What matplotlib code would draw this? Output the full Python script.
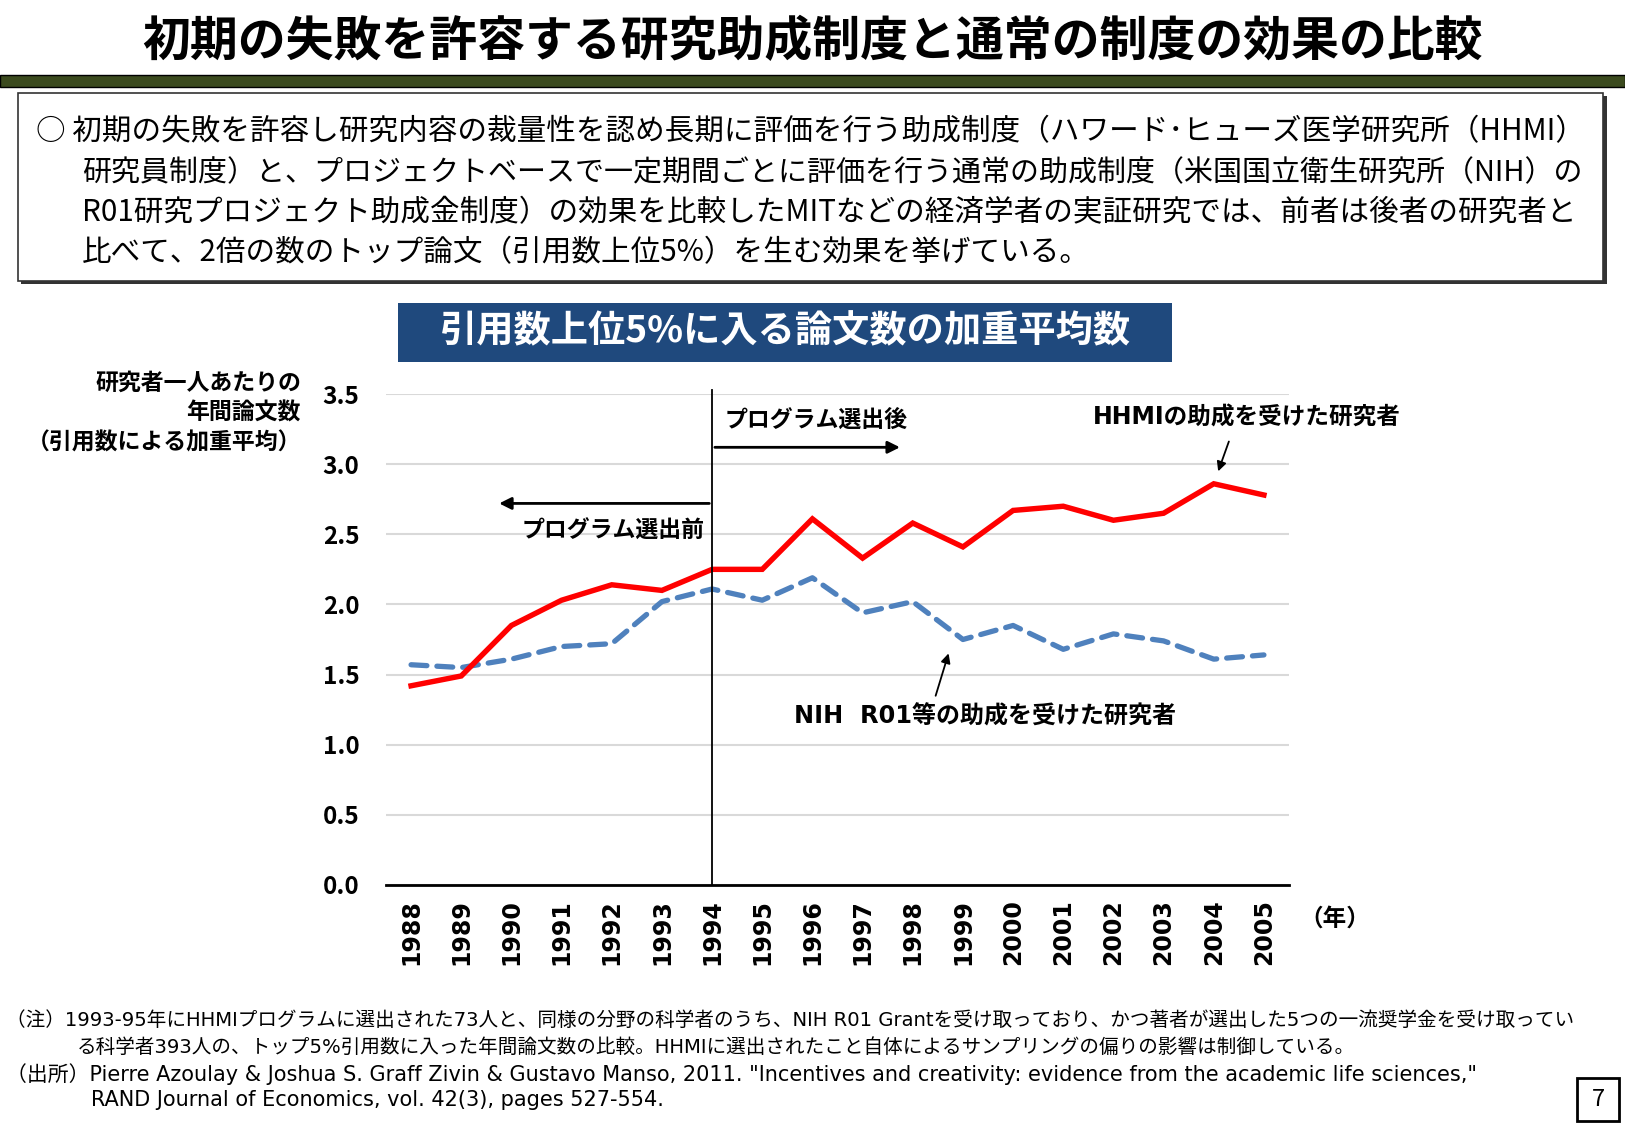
import matplotlib as mpl
import matplotlib.pyplot as plt
from matplotlib.patches import Rectangle
import numpy as np

plt.rcParams['font.family'] = ['Noto Sans CJK JP', 'DejaVu Sans']
LATIN = ['DejaVu Sans', 'Noto Sans CJK JP']

# data
years = ['1988', '1989', '1990', '1991', '1992', '1993', '1994', '1995', '1996',
         '1997', '1998', '1999', '2000', '2001', '2002', '2003', '2004', '2005']
hhmi = [1.42, 1.49, 1.85, 2.03, 2.14, 2.10, 2.25, 2.25, 2.61,
        2.33, 2.58, 2.41, 2.67, 2.70, 2.60, 2.65, 2.86, 2.78]
nih = [1.57, 1.55, 1.61, 1.70, 1.72, 2.02, 2.11, 2.03, 2.19,
       1.94, 2.02, 1.75, 1.85, 1.68, 1.79, 1.74, 1.61, 1.64]
yticks = [0.0, 0.5, 1.0, 1.5, 2.0, 2.5, 3.0, 3.5]

title = '初期の失敗を許容する研究助成制度と通常の制度の効果の比較'
box_lines = [
    '○ 初期の失敗を許容し研究内容の裁量性を認め長期に評価を行う助成制度（ハワード･ヒューズ医学研究所（HHMI）',
    '研究員制度）と、プロジェクトベースで一定期間ごとに評価を行う通常の助成制度（米国国立衛生研究所（NIH）の',
    'R01研究プロジェクト助成金制度）の効果を比較したMITなどの経済学者の実証研究では、前者は後者の研究者と',
    '比べて、2倍の数のトップ論文（引用数上位5%）を生む効果を挙げている。',
]
chart_title = '引用数上位5%に入る論文数の加重平均数'
ylabel_lines = ['研究者一人あたりの', '年間論文数', '（引用数による加重平均）']
notes = [
    '（注）1993-95年にHHMIプログラムに選出された73人と、同様の分野の科学者のうち、NIH R01 Grantを受け取っており、かつ著者が選出した5つの一流奨学金を受け取ってい',
    'る科学者393人の、トップ5%引用数に入った年間論文数の比較。HHMIに選出されたこと自体によるサンプリングの偏りの影響は制御している。',
    '（出所）Pierre Azoulay & Joshua S. Graff Zivin & Gustavo Manso, 2011. "Incentives and creativity: evidence from the academic life sciences,"',
    'RAND Journal of Economics, vol. 42(3), pages 527-554.',
]

W, H = 1625, 1125
fig = plt.figure(figsize=(W / 100, H / 100), dpi=100)


def fx(x):
    return x / W


def fy(y):
    return 1 - y / H


# header
fig.text(fx(812), fy(42), title, ha='center', va='center', fontsize=34.5, fontweight='bold')
fig.add_artist(Rectangle((0, fy(87)), 1, (87 - 75) / H, transform=fig.transFigure,
                         facecolor='#3B4A1E', edgecolor='black', linewidth=1))

# description box
fig.add_artist(Rectangle((fx(21), fy(284)), fx(1607) - fx(21), (284 - 96) / H,
                         transform=fig.transFigure, facecolor='#333333', edgecolor='none'))
fig.add_artist(Rectangle((fx(18), fy(281)), fx(1603) - fx(18), (281 - 93) / H,
                         transform=fig.transFigure, facecolor='white', edgecolor='#333333', linewidth=1.2))
box_sizes = [21.3, 20.9, 21.3, 21.3]
fig.text(fx(36), fy(132), box_lines[0], ha='left', va='center', fontsize=box_sizes[0])
for i, line in enumerate(box_lines[1:]):
    fig.text(fx(82), fy(173 + 40 * i), line, ha='left', va='center', fontsize=box_sizes[i + 1])

# chart title
fig.add_artist(Rectangle((fx(398), fy(362)), fx(1172) - fx(398), (362 - 303) / H,
                         transform=fig.transFigure, facecolor='#1F497D', edgecolor='none'))
fig.text(fx(785), fy(332), chart_title, ha='center', va='center', fontsize=26.8,
         fontweight='bold', color='white')

# y label
for i, line in enumerate(ylabel_lines):
    fig.text(fx(301), fy(383 + 30 * i), line, ha='right', va='center', fontsize=16.5, fontweight='bold')

# axes
ax = fig.add_axes([fx(386), fy(885), fx(1289) - fx(386), (885 - 394) / H])
x = np.arange(len(years))
ax.set_xlim(-0.5, len(years) - 0.5)
ax.set_ylim(0, 3.5)
ax.set_yticks(yticks)
ax.set_yticklabels(['%.1f' % v for v in yticks], fontsize=17.5, fontweight='bold')
ax.set_xticks(x)
ax.set_xticklabels(years, rotation=90, fontsize=17, fontweight='bold', family='DejaVu Sans')
ax.tick_params(length=0)
ax.tick_params(axis='y', pad=19)
ax.tick_params(axis='x', pad=10)
for s in ['top', 'left', 'right']:
    ax.spines[s].set_visible(False)
ax.spines['bottom'].set_linewidth(2)
ax.spines['bottom'].set_zorder(5)
ax.grid(axis='y', color='#D9D9D9', linewidth=1.5)
ax.set_axisbelow(True)

ax.plot(x, nih, color='#4F81BD', linewidth=3.8, dashes=(3.0, 1.9), dash_capstyle='round')
ax.plot(x, hhmi, color='#FF0000', linewidth=3.9, solid_joinstyle='miter')
ax.plot([6, 6], [0, 3.53], color='black', linewidth=1.3, clip_on=False)

# annotations
ax.annotate('', xy=(9.8, 3.12), xytext=(6, 3.12),
            arrowprops=dict(arrowstyle='-|>', color='black', lw=2, mutation_scale=18))
ax.annotate('', xy=(1.7, 2.72), xytext=(6, 2.72),
            arrowprops=dict(arrowstyle='-|>', color='black', lw=2, mutation_scale=18))
ax.text(6.25, 3.31, 'プログラム選出後', ha='left', va='center', fontsize=16.5, fontweight='bold')
ax.text(5.85, 2.52, 'プログラム選出前', ha='right', va='center', fontsize=16.5, fontweight='bold')
ax.text(13.6, 3.33, 'HHMIの助成を受けた研究者', ha='left', va='center', fontsize=17,
        fontweight='bold', family=LATIN, clip_on=False)
ax.annotate('', xy=(16.07, 2.93), xytext=(16.32, 3.18),
            arrowprops=dict(arrowstyle='-|>', color='black', lw=1.3, mutation_scale=14))
ax.text(11.45, 1.2, 'NIH  R01等の助成を受けた研究者', ha='center', va='center', fontsize=17.3,
        fontweight='bold', family=LATIN)
ax.annotate('', xy=(10.73, 1.67), xytext=(10.44, 1.33),
            arrowprops=dict(arrowstyle='-|>', color='black', lw=1.3, mutation_scale=14))

fig.text(fx(1335), fy(919), '（年）', ha='center', va='center', fontsize=17, fontweight='bold')

# footnotes
fig.text(fx(6), fy(1021), notes[0], ha='left', va='center', fontsize=14.1, family=LATIN)
fig.text(fx(77), fy(1047), notes[1], ha='left', va='center', fontsize=14.1, family=LATIN)
fig.text(fx(6), fy(1074), notes[2], ha='left', va='center', fontsize=15, family=LATIN)
fig.text(fx(91), fy(1100), notes[3], ha='left', va='center', fontsize=15, family=LATIN)

# page number
fig.add_artist(Rectangle((fx(1577), fy(1121)), fx(1619) - fx(1577), (1121 - 1078) / H,
                         transform=fig.transFigure, facecolor='white', edgecolor='black', linewidth=2))
fig.text(fx(1598), fy(1100), '7', ha='center', va='center', fontsize=17)

fig.savefig('out.png', dpi=100)
